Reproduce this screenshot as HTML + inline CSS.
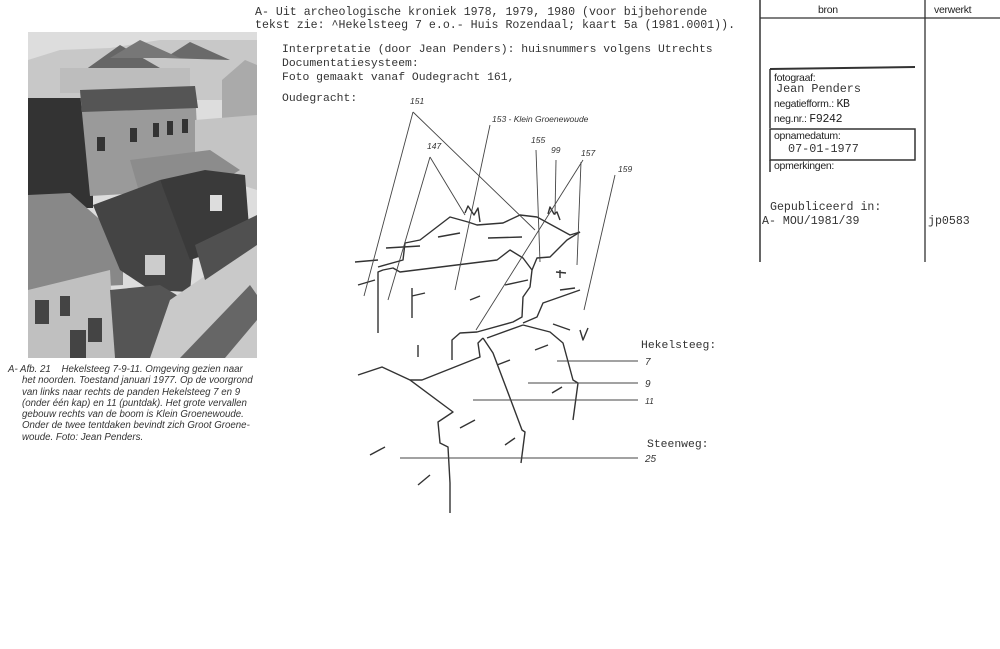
<!DOCTYPE html>
<html><head><meta charset="utf-8"><style>
body{margin:0;width:1000px;height:649px;background:#fff;position:relative;overflow:hidden;font-family:"Liberation Mono",monospace;color:#333}
.t{position:absolute;white-space:nowrap;font-size:11.6px;line-height:13px}
.s{position:absolute;white-space:nowrap;font-family:"Liberation Sans",sans-serif;font-size:10.5px;color:#222;letter-spacing:-0.3px}
.cap{position:absolute;left:8px;top:364px;width:252px;font-family:"Liberation Sans",sans-serif;font-style:italic;font-size:9.7px;line-height:11.3px;color:#333}
.cap div{padding-left:14px;white-space:nowrap}
</style></head><body>
<svg width="1000" height="649" style="position:absolute;left:0;top:0">
<rect x="28" y="32" width="229" height="326" fill="#ddd"/>
<polygon points="28,60 60,50 110,48 160,40 257,40 257,100 28,100" fill="#c8c8c8"/>
<polygon points="85,70 120,45 160,68" fill="#666"/>
<polygon points="165,58 190,42 230,60" fill="#6a6a6a"/>
<polygon points="110,58 140,40 180,58" fill="#777"/>
<polygon points="222,80 245,60 257,65 257,118 222,118" fill="#aaa"/>
<rect x="60" y="68" width="130" height="25" fill="#bdbdbd"/>
<rect x="28" y="98" width="65" height="110" fill="#333"/>
<polygon points="80,92 195,88 200,190 90,196" fill="#9a9a9a"/>
<polygon points="80,90 195,86 198,108 82,112" fill="#555"/>
<g fill="#333"><rect x="97" y="137" width="8" height="14"/><rect x="130" y="128" width="7" height="14"/><rect x="153" y="123" width="6" height="14"/><rect x="167" y="121" width="6" height="14"/><rect x="182" y="119" width="6" height="14"/></g>
<polygon points="195,120 257,115 257,190 195,170" fill="#c4c4c4"/>
<polygon points="130,160 210,150 240,170 190,200 140,195" fill="#8c8c8c"/>
<polygon points="28,195 70,193 123,240 123,285 28,290" fill="#888"/>
<polygon points="28,290 110,270 115,358 28,358" fill="#c0c0c0"/>
<g fill="#444"><rect x="35" y="300" width="14" height="24"/><rect x="60" y="296" width="10" height="20"/><rect x="70" y="330" width="16" height="28"/><rect x="88" y="318" width="14" height="24"/></g>
<polygon points="93,205 160,180 193,260 190,292 150,290 120,270" fill="#444"/>
<polygon points="160,180 205,170 245,175 250,240 190,260" fill="#3a3a3a"/>
<rect x="210" y="195" width="12" height="16" fill="#ddd"/>
<rect x="145" y="255" width="20" height="20" fill="#ccc"/>
<polygon points="110,290 160,285 185,300 170,358 115,358" fill="#555"/>
<polygon points="170,300 257,240 257,358 150,358" fill="#c9c9c9"/>
<polygon points="180,358 250,285 257,295 257,320 225,358" fill="#666"/>
<polygon points="195,245 257,215 257,245 205,280" fill="#505050"/>
<g stroke="#333" stroke-width="1.4" fill="none" stroke-linejoin="round">
<polyline points="378,267 403,260 405,243 420,240 450,217 468,222 477,225 503,223 520,215 537,217 570,235 580,232"/>
<polyline points="378,333 378,272 383,270 393,268 400,272 497,260 510,250 523,258 532,270 530,287 523,297 522,317 513,322 477,332 460,333 452,340 452,360"/>
<polyline points="532,270 537,258 550,257 567,240 580,232"/>
<polyline points="523,325 550,332 563,343 573,380 578,383 573,420"/>
<polyline points="523,323 537,317 543,303 580,290"/>
<polyline points="487,338 523,325"/>
<polyline points="483,338 493,353 507,390 522,430 525,432 521,463"/>
<polyline points="358,375 382,367 410,380 422,380 480,357 478,343 483,338"/>
<polyline points="410,380 453,412 438,422 440,443 448,447 450,483 450,513"/>
<polyline points="355,262 378,260"/><polyline points="386,248 420,246"/>
<polyline points="438,237 460,233"/><polyline points="488,238 522,237"/>
<polyline points="465,213 468,206 474,215 478,208 480,222"/><polyline points="548,214 550,207 554,214 557,212 560,220"/>
<polyline points="358,285 375,280"/><polyline points="412,288 412,318"/><polyline points="412,296 425,293"/>
<polyline points="418,345 418,357"/><polyline points="505,285 528,280"/>
<polyline points="560,278 560,270"/><polyline points="556,272 566,273"/><polyline points="560,290 575,288"/>
<polyline points="553,324 570,330"/><polyline points="580,330 583,340 588,328"/>
<polyline points="497,365 510,360"/><polyline points="470,300 480,296"/><polyline points="552,393 562,387"/>
<polyline points="370,455 385,447"/><polyline points="460,428 475,420"/><polyline points="505,445 515,438"/>
<polyline points="418,485 430,475"/><polyline points="535,350 548,345"/>
</g>
<g stroke="#444" stroke-width="0.9" fill="none">
<line x1="413" y1="112" x2="364" y2="296"/><line x1="413" y1="112" x2="535" y2="230"/>
<line x1="490" y1="125" x2="455" y2="290"/>
<line x1="430" y1="157" x2="388" y2="300"/><line x1="430" y1="157" x2="465" y2="215"/>
<line x1="536" y1="150" x2="540" y2="262"/><line x1="556" y1="160" x2="555" y2="215"/>
<line x1="583" y1="160" x2="476" y2="330"/><line x1="581" y1="162" x2="577" y2="265"/>
<line x1="615" y1="175" x2="584" y2="310"/>
<line x1="557" y1="361" x2="638" y2="361"/><line x1="528" y1="383" x2="638" y2="383"/>
<line x1="473" y1="400" x2="638" y2="400"/><line x1="400" y1="458" x2="638" y2="458"/>
</g>
<g stroke="#333" fill="none">
<line x1="760" y1="0" x2="760" y2="262" stroke-width="1.5"/>
<line x1="925" y1="0" x2="925" y2="262" stroke-width="1.3"/>
<line x1="760" y1="18" x2="1000" y2="18" stroke-width="1.3"/>
<line x1="770" y1="69" x2="915" y2="67" stroke-width="2"/>
<line x1="770" y1="69" x2="770" y2="128" stroke-width="1.5"/>
<rect x="770" y="129" width="145" height="31" stroke-width="1.5"/>
<line x1="770" y1="160" x2="770" y2="172" stroke-width="1.5"/>
</g>
<g font-family="Liberation Sans,sans-serif" font-style="italic" font-size="8.5" fill="#333">
<text x="410" y="104">151</text><text x="492" y="122">153 - Klein Groenewoude</text>
<text x="427" y="149">147</text><text x="531" y="143">155</text><text x="551" y="153">99</text>
<text x="581" y="156">157</text><text x="618" y="172">159</text>
<text x="645" y="365" font-size="10">7</text><text x="645" y="387" font-size="10">9</text>
<text x="645" y="404">11</text><text x="645" y="462" font-size="10">25</text>
</g>
</svg>
<div class="t" style="left:255px;top:6px">A- Uit archeologische kroniek 1978, 1979, 1980 (voor bijbehorende</div>
<div class="t" style="left:255px;top:19px">tekst zie: ^Hekelsteeg 7 e.o.- Huis Rozendaal; kaart 5a (1981.0001)).</div>
<div class="t" style="left:282px;top:44px;font-size:11.4px">Interpretatie (door Jean Penders): huisnummers volgens Utrechts</div>
<div class="t" style="left:282px;top:58px;font-size:11.4px">Documentatiesysteem:</div>
<div class="t" style="left:282px;top:72px;font-size:11.4px">Foto gemaakt vanaf Oudegracht 161,</div>
<div class="t" style="left:282px;top:93px;font-size:11.4px">Oudegracht:</div>
<div class="t" style="left:641px;top:340px;font-size:11.4px">Hekelsteeg:</div>
<div class="t" style="left:647px;top:439px;font-size:11.4px">Steenweg:</div>
<div class="s" style="left:818px;top:4px">bron</div>
<div class="s" style="left:934px;top:4px">verwerkt</div>
<div class="s" style="left:774px;top:72px">fotograaf:</div>
<div class="t" style="left:776px;top:83px;font-size:11.8px">Jean Penders</div>
<div class="s" style="left:774px;top:98px">negatiefform.: <span style="font-family:'Liberation Mono',monospace;font-size:11.5px">KB</span></div>
<div class="s" style="left:774px;top:113px">neg.nr.: <span style="font-family:'Liberation Mono',monospace;font-size:11.5px">F9242</span></div>
<div class="s" style="left:774px;top:130px">opnamedatum:</div>
<div class="t" style="left:788px;top:143px;font-size:11.8px">07-01-1977</div>
<div class="s" style="left:774px;top:160px">opmerkingen:</div>
<div class="t" style="left:770px;top:201px;font-size:11.6px">Gepubliceerd in:</div>
<div class="t" style="left:762px;top:215px;font-size:11.6px">A- MOU/1981/39</div>
<div class="t" style="left:928px;top:215px;font-size:11.6px">jp0583</div>
<div class="cap"><div style="padding-left:0">A- Afb. 21 &nbsp;&nbsp; Hekelsteeg 7-9-11. Omgeving gezien naar</div><div>het noorden. Toestand januari 1977. Op de voorgrond</div><div>van links naar rechts de panden Hekelsteeg 7 en 9</div><div>(onder één kap) en 11 (puntdak). Het grote vervallen</div><div>gebouw rechts van de boom is Klein Groenewoude.</div><div>Onder de twee tentdaken bevindt zich Groot Groene-</div><div>woude. Foto: Jean Penders.</div></div>
</body></html>
